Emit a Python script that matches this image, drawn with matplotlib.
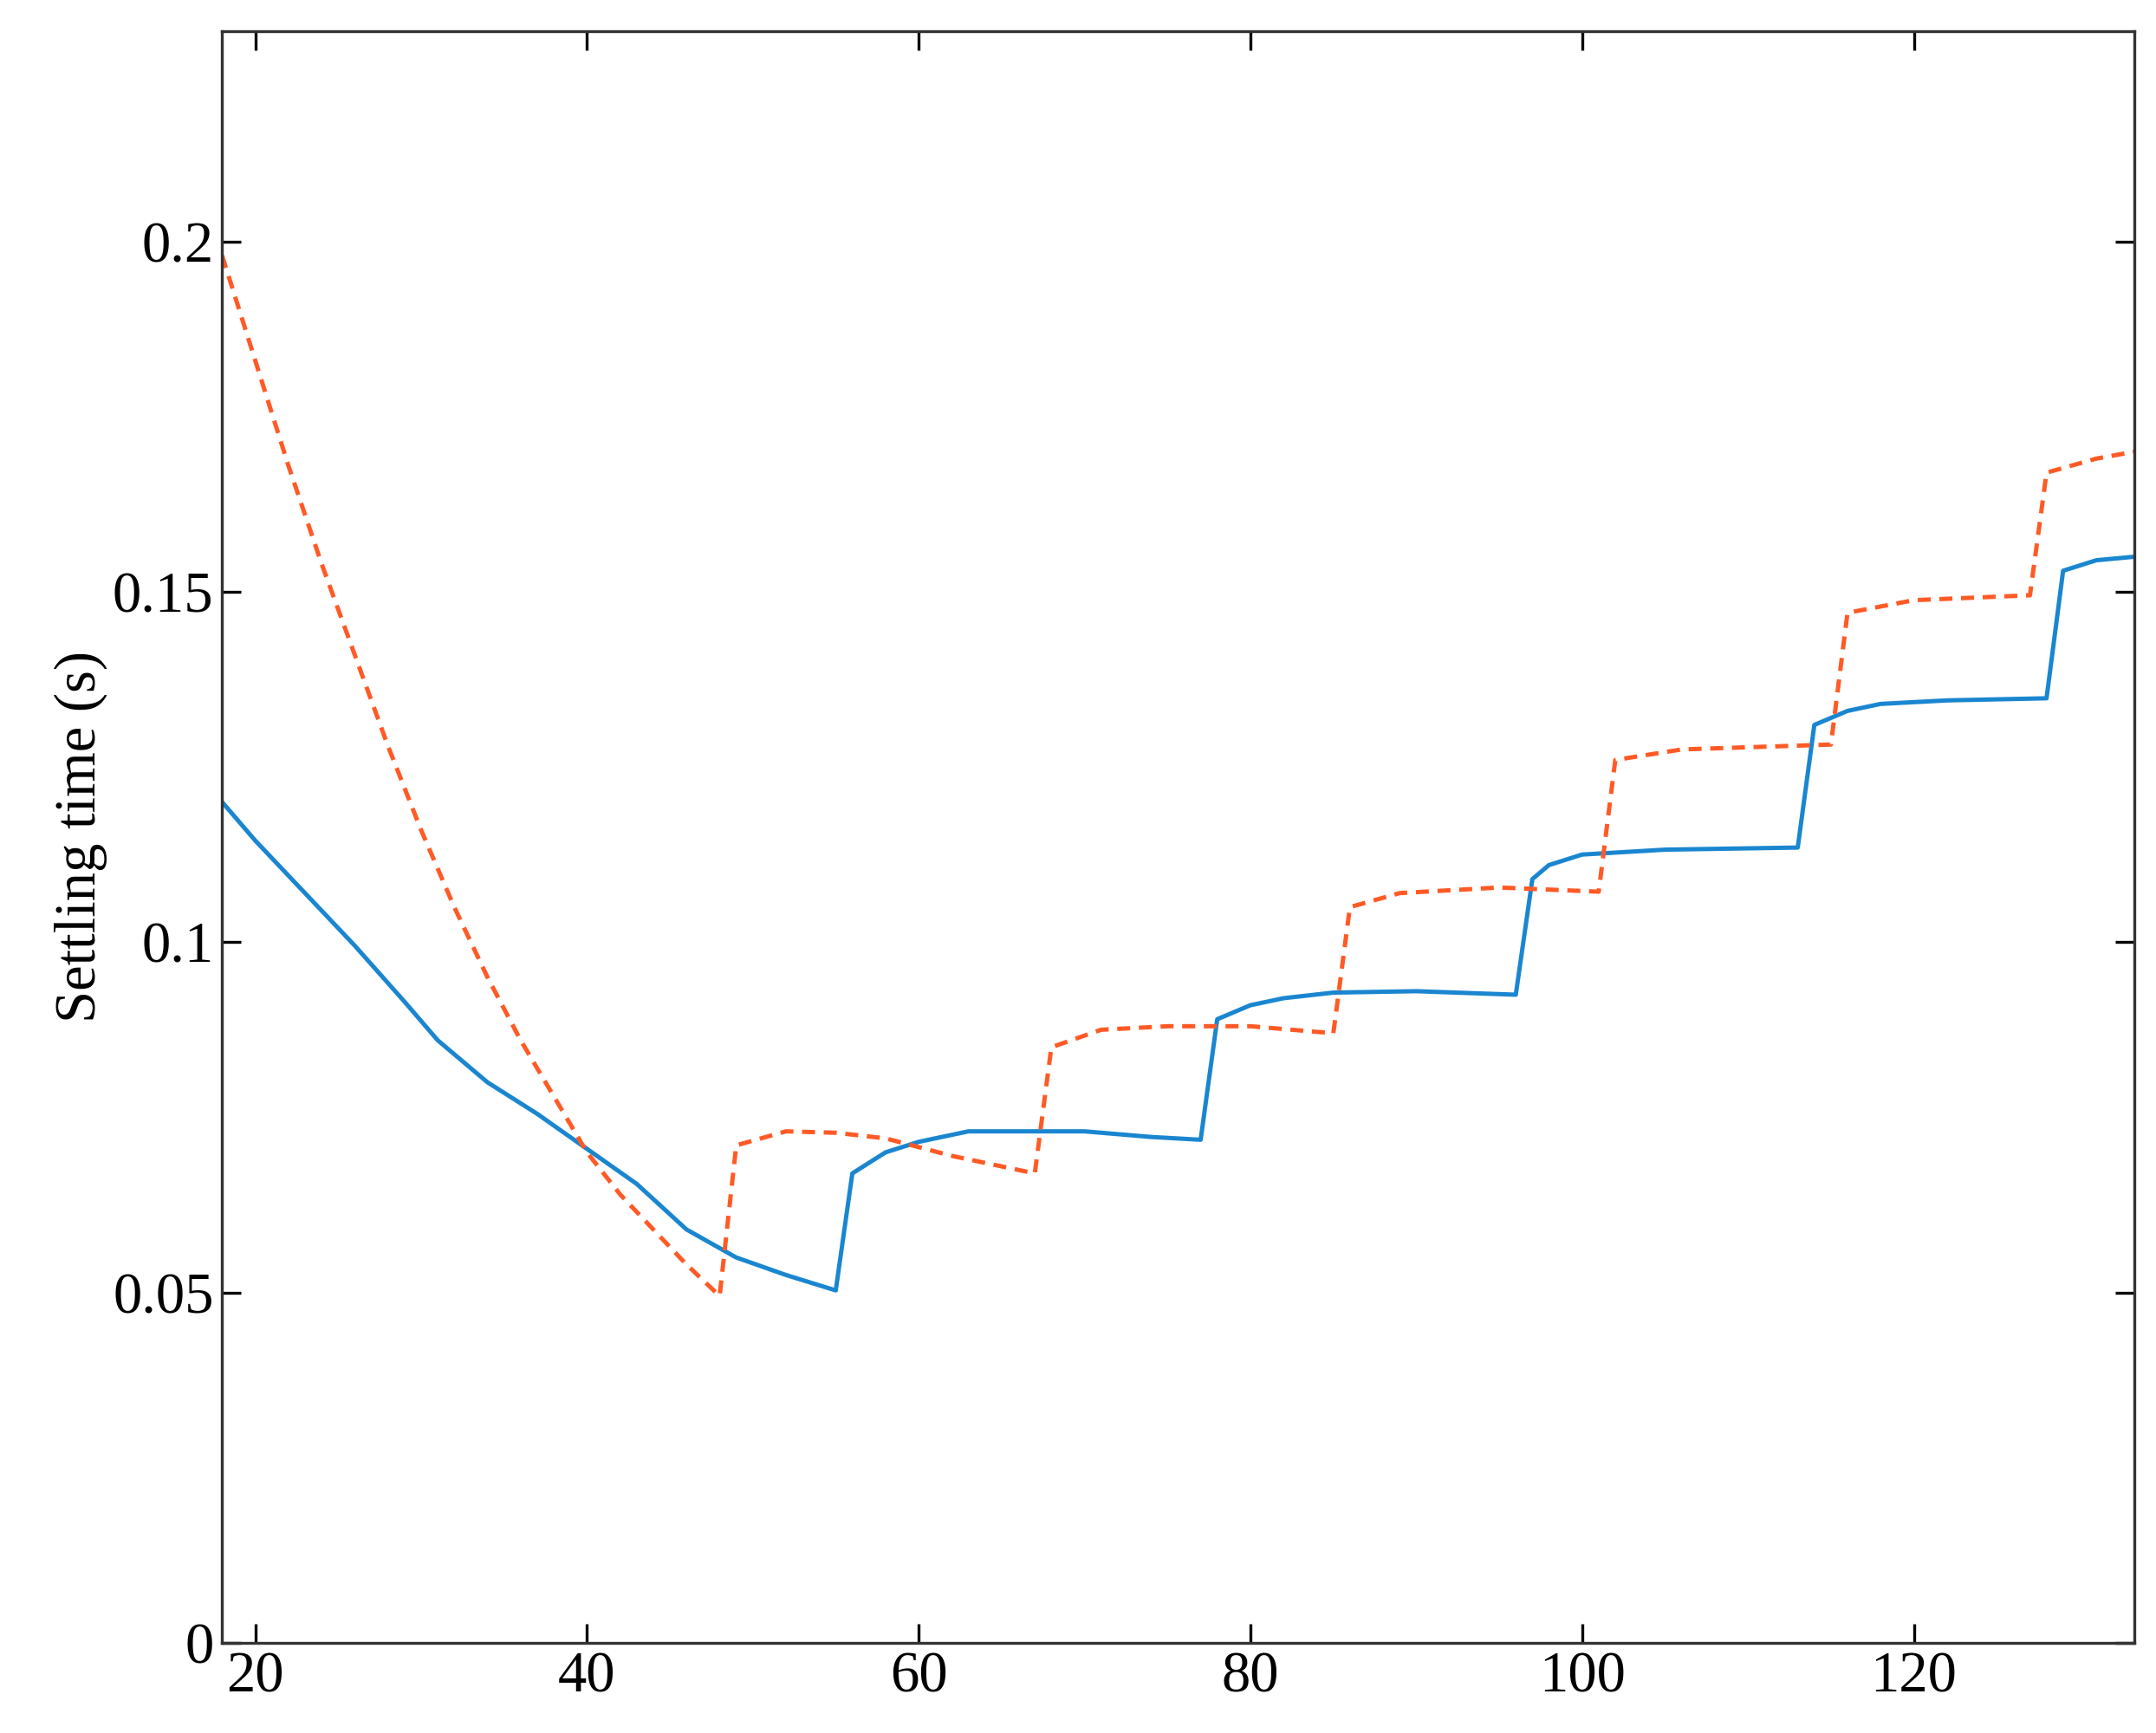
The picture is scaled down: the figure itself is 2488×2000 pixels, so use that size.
import matplotlib.pyplot as plt
import numpy as np

plt.rcParams["font.family"] = ["Liberation Serif", "DejaVu Serif"]

# Blue solid series
blue_x = [18, 20, 23, 26, 29, 31, 34, 37, 40, 43, 46, 49, 52, 55,
          56, 58, 60, 63, 70, 74, 77,
          78, 80, 82, 85, 90, 96,
          97, 98, 100, 105, 113,
          114, 116, 118, 122, 128,
          129, 131, 133.3]
blue_y = [0.120, 0.1145, 0.107, 0.0995, 0.0915, 0.0860, 0.0800, 0.0755, 0.0705, 0.0655, 0.0590, 0.0550, 0.0525, 0.0503,
          0.0670, 0.0700, 0.0715, 0.0730, 0.0730, 0.0722, 0.0718,
          0.0890, 0.0910, 0.0920, 0.0928, 0.0930, 0.0925,
          0.1090, 0.1110, 0.1125, 0.1132, 0.1135,
          0.1310, 0.1330, 0.1340, 0.1345, 0.1348,
          0.1530, 0.1545, 0.1550]

# Orange dashed series
orange_x = [18, 20, 22, 24, 26, 28, 30, 32, 34, 36, 38, 40, 42, 44, 46, 48,
            49, 52, 55, 58, 62, 67,
            68, 71, 75, 80, 85,
            86, 89, 95, 101,
            102, 106, 115,
            116, 120, 127,
            128, 131, 133.3]
orange_y = [0.198, 0.183, 0.168, 0.154, 0.141, 0.128, 0.116, 0.105, 0.095, 0.086, 0.078, 0.070, 0.064, 0.059, 0.054, 0.0495,
            0.0710, 0.0730, 0.0728, 0.0720, 0.0695, 0.0670,
            0.0850, 0.0875, 0.0880, 0.0880, 0.0870,
            0.1050, 0.1070, 0.1078, 0.1072,
            0.1260, 0.1275, 0.1282,
            0.1470, 0.1488, 0.1495,
            0.1670, 0.1690, 0.1700]

fig = plt.figure(figsize=(12.44, 10), dpi=200)
ax = fig.add_axes([0.103, 0.052, 0.887, 0.930])
ax.plot(blue_x, blue_y, color="#1a86d0", linewidth=1.8)
ax.plot(orange_x, orange_y, color="#ff5a26", linewidth=1.8, linestyle=(0, (3, 2)))

ax.set_xlim(18, 133.3)
ax.set_ylim(0, 0.23)
ax.set_xticks([20, 40, 60, 80, 100, 120])
ax.set_yticks([0, 0.05, 0.1, 0.15, 0.2])
ax.set_yticklabels(["0", "0.05", "0.1", "0.15", "0.2"])
ax.tick_params(direction="in", top=True, right=True, labelsize=24, length=8, width=1.2)
ax.set_ylabel("Settling time (s)", fontsize=24, labelpad=2)
for s in ax.spines.values():
    s.set_linewidth(1.2)
    s.set_color("#333333")

fig.savefig("out.png", dpi=200)
